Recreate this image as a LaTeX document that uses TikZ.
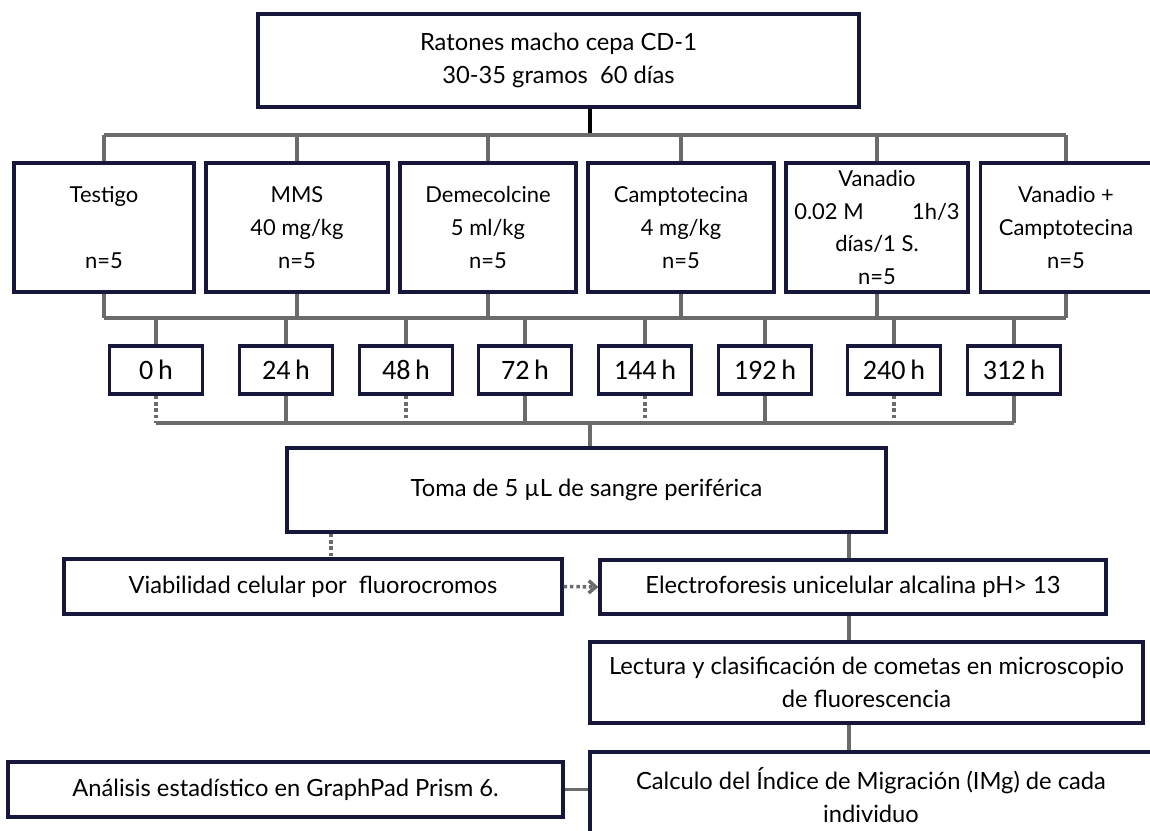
\documentclass[tikz,border=0pt]{standalone}
\usepackage{fontspec}
\setmainfont{Lato}
\newfontfamily\horafont{Carlito}
\usetikzlibrary{arrows.meta,calc}
\definecolor{BoxNavy}{HTML}{17173C}
\definecolor{LinkGray}{HTML}{6B6B6B}

\begin{document}
\begin{tikzpicture}[x=0.02cm,y=-0.02cm,
  caja/.style={draw=BoxNavy,line width=1.9pt,fill=white,align=center,inner sep=0pt,
    font=\fontsize{13.5}{18.7}\selectfont},
  trat/.style={caja,minimum height=2.58cm,font=\fontsize{12.5}{18.7}\selectfont},
  hora/.style={caja,minimum width=1.86cm,minimum height=0.96cm,
    font=\horafont\fontsize{16}{18}\selectfont},
  link/.style={LinkGray,line width=2pt},
  dlink/.style={link,dash pattern=on 2pt off 1.6pt}]
  \useasboundingbox (0,0) rectangle (1150,831);

  % animales
  \node[caja,minimum width=12.02cm,minimum height=1.86cm] (raton) at (558.5,60.5)
    {Ratones macho cepa CD-1\\30-35 gramos\ \ 60 días};

  % tratamientos
  \node[trat,minimum width=3.6cm]  (testigo) at (104,227.5) {Testigo\\\mbox{}\\n=5};
  \node[trat,minimum width=3.64cm] (mms)     at (297,227.5) {MMS\\40 mg/kg\\n=5};
  \node[trat,minimum width=3.52cm] (deme)    at (488,227.5) {Demecolcine\\5 ml/kg\\n=5};
  \node[trat,minimum width=3.72cm] (campto)  at (681,227.5) {Camptotecina\\4 mg/kg\\n=5};
  \node[trat,minimum width=3.64cm] (vanadio) at (877,227.5) {Vanadio\\0.02 M\hspace{2.2em}1h/3\\días/1 S.\\n=5};
  \node[trat,minimum width=3.42cm] (vancam)  at (1066,227.5) {Vanadio +\\Camptotecina\\n=5};

  \coordinate (tbus) at (590,135);
  \coordinate (lbus) at (590,318);
  \coordinate (cbus) at (590,423);

  \draw[black,line width=2pt] (raton.south -| tbus) -- (tbus);
  \draw[link] (testigo.north |- tbus) -- (vancam.north |- tbus);
  \draw[link] (testigo.south |- lbus) -- (vancam.south |- lbus);
  \foreach \n in {testigo,mms,deme,campto,vanadio,vancam}{
    \draw[link] (\n.north) -- (\n.north |- tbus);
    \draw[link] (\n.south) -- (\n.south |- lbus);
  }

  % tiempos de muestreo
  \foreach \t/\x/\s in {0/156/dlink,24/286/link,48/406/dlink,72/525/link,
                        144/645/dlink,192/765/link,240/894/dlink,312/1014/link}{
    \node[hora] (h\t) at (\x,370) {\t\,h};
    \draw[link] (h\t.north |- lbus) -- (h\t.north);
    \draw[\s] (h\t.south) -- (h\t.south |- cbus);
  }
  \draw[link] (h0.south |- cbus) -- (h312.south |- cbus);

  % muestra y ensayos
  \node[caja,minimum width=11.98cm,minimum height=1.68cm] (toma) at (586.5,490)
    {Toma de 5 µL de sangre periférica};
  \node[caja,minimum width=9.96cm,minimum height=1.1cm] (viab) at (313,586.5)
    {Viabilidad celular por\ \ fluorocromos};
  \node[caja,minimum width=10.12cm,minimum height=1.08cm] (elec) at (853,587)
    {Electroforesis unicelular alcalina pH> 13};
  \node[caja,minimum width=11.06cm,minimum height=1.62cm] (lect) at (866.5,682.5)
    {Lectura y clasificación de cometas en microscopio\\de fluorescencia};
  \node[caja,minimum width=11.24cm,minimum height=1.72cm] (calc) at (871,795)
    {Calculo del Índice de Migración (IMg) de cada\\individuo};
  \node[caja,minimum width=11.1cm,minimum height=1.1cm] (anal) at (285.5,789.5)
    {Análisis estadístico en GraphPad Prism 6.};

  \draw[link] (cbus) -- (toma.north -| cbus);
  \draw[dlink] (toma.south -| 331,0) -- (viab.north -| 331,0);
  \draw[link] (toma.south -| 849,0) -- (elec.north -| 849,0);
  \draw[dlink,-{Straight Barb[length=4pt,width=7pt]}] (viab.east) -- (elec.west);
  \draw[link] (elec.south -| 849,0) -- (lect.north -| 849,0);
  \draw[link] (lect.south -| 849,0) -- (calc.north -| 849,0);
  \draw[link] (anal.east) -- (anal.east -| calc.west);
\end{tikzpicture}
\end{document}
